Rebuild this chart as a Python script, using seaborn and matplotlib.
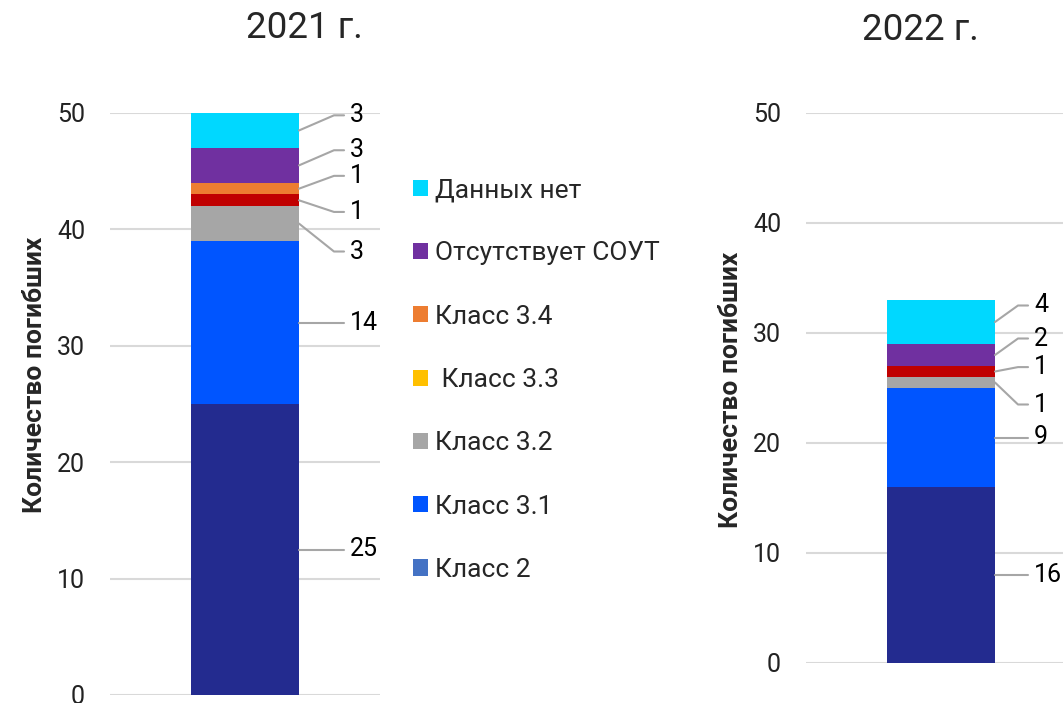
import matplotlib
matplotlib.use("Agg")
import matplotlib.pyplot as plt
from matplotlib.patches import Patch
import seaborn as sns
import numpy as np
import pandas as pd

segments = ["Класс 2", "Класс 3.1", "Класс 3.2", "Класс 3.3", "Класс 3.4",
            "Отсутствует СОУТ", "Данных нет"]
values_2021 = [25, 14, 3, 1, 1, 3, 3]
values_2022 = [16, 9, 1, 1, 0, 2, 4]
years = ["2021 г.", "2022 г."]

bar_colors = ["#232B8F", "#0055FF", "#A6A6A6", "#C00000", "#ED7D31", "#7030A0", "#00D8FF"]
legend_colors = ["#4472C4", "#0055FF", "#A6A6A6", "#FFC000", "#ED7D31", "#7030A0", "#00D8FF"]
legend_labels = ["Класс 2", "Класс 3.1", "Класс 3.2", " Класс 3.3", "Класс 3.4",
                 "Отсутствует СОУТ", "Данных нет"]

# label text heights (layout only) for small segments, None -> at segment middle
label_pos_2021 = [None, None, 38.1, 41.5, 44.6, 46.8, 49.8]
label_pos_2022 = [None, None, 23.5, 26.9, None, 29.5, 32.5]

sns.set_theme(style="white")
plt.rcParams["font.family"] = ["Roboto", "DejaVu Sans"]

fig = plt.figure(figsize=(10.63, 7.03), dpi=100)
W, H = 1063, 703
ax1 = fig.add_axes([110 / W, 1 - 695 / H, 270 / W, (695 - 113) / H])
ax2 = fig.add_axes([806 / W, 1 - 663 / H, 270 / W, (663 - 113) / H])


def draw_year(ax, vals, label_pos, elbow_x, end_x, text_x):
    df = pd.DataFrame({"segment": segments, "value": vals, "year": "y"})
    df["top"] = df["value"].cumsum()
    df["bottom"] = df["top"] - df["value"]
    # overlapping cumulative bars, tallest first
    for i in range(len(df) - 1, -1, -1):
        if df.loc[i, "value"] == 0:
            continue
        sns.barplot(data=df.iloc[[i]], x="year", y="top", color=bar_colors[i],
                    width=1.0, ax=ax, saturation=1, linewidth=0, zorder=3)
    for i, row in df.iterrows():
        if row["value"] == 0:
            continue
        mid = (row["top"] + row["bottom"]) / 2
        ly = label_pos[i]
        if ly is None:
            ax.plot([0.5, end_x], [mid, mid], color="#A6A6A6", lw=1.5, clip_on=False, zorder=4)
            ty = mid
        else:
            ax.plot([0.5, elbow_x, end_x], [mid, ly, ly], color="#A6A6A6", lw=1.5,
                    clip_on=False, zorder=4)
            ty = ly
        ax.text(text_x, ty, str(int(row["value"])), ha="left", va="center",
                fontsize=18, color="black", clip_on=False)
    ax.set_xlim(-1.25, 1.25)
    ax.set_ylim(0, 50)
    ax.set_yticks(range(0, 51, 10))
    ax.grid(axis="y", color="#D9D9D9", lw=1.5, zorder=0)
    ax.set_axisbelow(True)
    ax.set_xticks([])
    ax.set_xlabel("")
    ax.set_ylabel("")
    for s in ax.spines.values():
        s.set_visible(False)
    ax.tick_params(axis="y", length=0, pad=18, labelsize=18, labelcolor="#222222")


draw_year(ax1, values_2021, label_pos_2021, 0.824, 0.917, 0.97)
draw_year(ax2, values_2022, label_pos_2022, 0.713, 0.806, 0.86)

fig.text(35 / W, 1 - 375 / H, "Количество погибших", rotation=90, ha="center",
         va="center", fontsize=19, fontweight="bold")
fig.text(731 / W, 1 - 390 / H, "Количество погибших", rotation=90, ha="center",
         va="center", fontsize=19, fontweight="bold")
fig.text(304 / W, 1 - 28 / H, years[0], ha="center", va="center", fontsize=26.5)
fig.text(920 / W, 1 - 30 / H, years[1], ha="center", va="center", fontsize=26.5)

handles = [Patch(facecolor=c, edgecolor="none") for c in legend_colors[::-1]]
fig.legend(handles, legend_labels[::-1], loc="upper left",
           bbox_to_anchor=(413 / W, 1 - 178 / H), frameon=False, fontsize=19,
           handlelength=0.57, handleheight=0.57, handletextpad=0.25, labelspacing=1.49,
           borderaxespad=0, borderpad=0)

fig.savefig("out.png", dpi=100)
